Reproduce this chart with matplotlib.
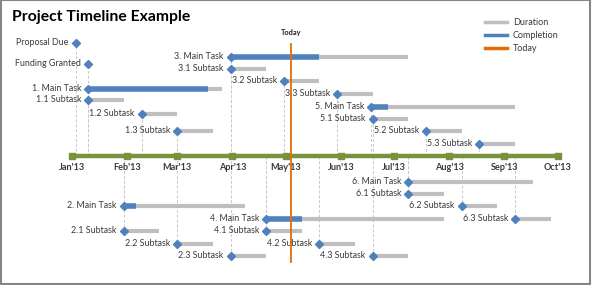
import matplotlib
matplotlib.use("Agg")
import matplotlib.pyplot as plt
import matplotlib.dates as mdates
from matplotlib.lines import Line2D
from matplotlib.patches import Rectangle
import datetime as dt

plt.rcParams['font.family'] = ['Lato', 'DejaVu Sans']

# ---- data ----
labels = ["Proposal Due", "Funding Granted",
          "1. Main Task", "1.1 Subtask", "1.2 Subtask", "1.3 Subtask",
          "2. Main Task", "2.1 Subtask", "2.2 Subtask", "2.3 Subtask",
          "3. Main Task", "3.1 Subtask", "3.2 Subtask", "3.3 Subtask",
          "4. Main Task", "4.1 Subtask", "4.2 Subtask", "4.3 Subtask",
          "5. Main Task", "5.1 Subtask", "5.2 Subtask", "5.3 Subtask",
          "6. Main Task", "6.1 Subtask", "6.2 Subtask", "6.3 Subtask"]
starts = ["2013-01-03", "2013-01-10",
          "2013-01-10", "2013-01-10", "2013-02-09", "2013-03-01",
          "2013-01-30", "2013-01-30", "2013-03-01", "2013-03-31",
          "2013-03-31", "2013-03-31", "2013-04-30", "2013-05-30",
          "2013-04-20", "2013-04-20", "2013-05-20", "2013-06-19",
          "2013-06-18", "2013-06-19", "2013-07-19", "2013-08-18",
          "2013-07-09", "2013-07-09", "2013-08-08", "2013-09-07"]
durations = [0, 0,
             75, 20, 20, 20,
             68, 20, 20, 20,
             100, 20, 20, 20,
             100, 20, 20, 20,
             81, 20, 20, 20,
             70, 20, 20, 20]
completion = [0, 0,
              0.90, 0, 0, 0,
              0.10, 0, 0, 0,
              0.50, 0, 0, 0,
              0.20, 0, 0, 0,
              0.12, 0, 0, 0,
              0.0, 0, 0, 0]
heights = [113, 92,
           67, 56, 42, 25,
           -50, -75, -88, -100,
           99, 87, 75, 62,
           -63, -75, -88, -100,
           49, 37, 25, 12,
           -26, -38, -50, -63]
months = ["2013-01-01", "2013-02-01", "2013-03-01", "2013-04-01", "2013-05-01",
          "2013-06-01", "2013-07-01", "2013-08-01", "2013-09-01", "2013-10-01"]
month_labels = ["Jan'13", "Feb'13", "Mar'13", "Apr'13", "May'13",
                "Jun'13", "Jul'13", "Aug'13", "Sep'13", "Oct'13"]
today = "2013-05-04"
today_range = (-106, 112)

# ---- styles ----
GRAY = "#BFBFBF"
BLUE = "#4F81BD"
ORANGE = "#E36C09"
GREEN = "#77933C"
TXT = "#3A3A3A"

def d(s):
    return mdates.date2num(dt.datetime.strptime(s, "%Y-%m-%d"))

fig = plt.figure(figsize=(5.92, 2.85), dpi=100)
ax = fig.add_axes([0, 0, 1, 1])
jan = d("2013-01-01")
ppd = 1.778  # pixels per day
ax.set_xlim(jan - 72.3 / ppd, jan + (592 - 72.3) / ppd)
ax.set_ylim(155.7 - 285, 155.7)
ax.axis("off")

# dashed connectors
for s, h in zip(starts, heights):
    ax.plot([d(s), d(s)], [0, h], color="#C8C8C8", lw=0.7, ls=(0, (3, 2)), zorder=1)

# timeline axis
mx = [d(m) for m in months]
ax.plot([mx[0], mx[-1]], [0, 0], color=GREEN, lw=3.2, zorder=3, solid_capstyle="butt")
ax.plot(mx, [0] * len(mx), ls="none", marker="s", ms=4.2, color=GREEN, zorder=4)
for x, lab in zip(mx, month_labels):
    ax.text(x, -12, lab, ha="center", va="center", fontsize=6.6, fontweight="bold", color=TXT)

# bars
for lab, s, du, c, h in zip(labels, starts, durations, completion, heights):
    x0 = d(s)
    if du > 0:
        ax.plot([x0, x0 + du], [h, h], color=GRAY, lw=3.0, zorder=5, solid_capstyle="butt")
        if c > 0:
            ax.plot([x0, x0 + du * c], [h, h], color=BLUE, lw=4.0, zorder=6, solid_capstyle="butt")
    ax.plot([x0], [h], marker="D", ms=4.0, color=BLUE, mec=BLUE, zorder=7)
    ax.text(x0 - 4.0, h, lab, ha="right", va="center", fontsize=6.4, color=TXT, zorder=8)

# today line
tx = d(today)
ax.plot([tx, tx], list(today_range), color=ORANGE, lw=1.3, zorder=9)
ax.text(tx, 123.5, "Today", ha="center", va="center", fontsize=5.3, fontweight="bold", color="#202020")

# title
fig.text(12 / 592, 1 - 16.5 / 285, "Project Timeline Example", ha="left", va="center",
         fontsize=11.3, fontweight="bold", color="#000000")

# legend
handles = [Line2D([], [], color=GRAY, lw=2.5),
           Line2D([], [], color=BLUE, lw=2.5),
           Line2D([], [], color=ORANGE, lw=2.5)]
leg = fig.legend(handles, ["Duration", "Completion", "Today"], loc="upper left",
                 bbox_to_anchor=(477 / 592, 1 - 10 / 285), frameon=False,
                 fontsize=6.5, handlelength=2.4, handletextpad=0.65, labelspacing=0.45,
                 labelcolor=TXT)

# border
fig.patches.append(Rectangle((0.001, 0.003), 0.996, 0.996, transform=fig.transFigure,
                             fill=False, edgecolor="#868686", lw=1.5))

fig.savefig("out.png", dpi=100)
